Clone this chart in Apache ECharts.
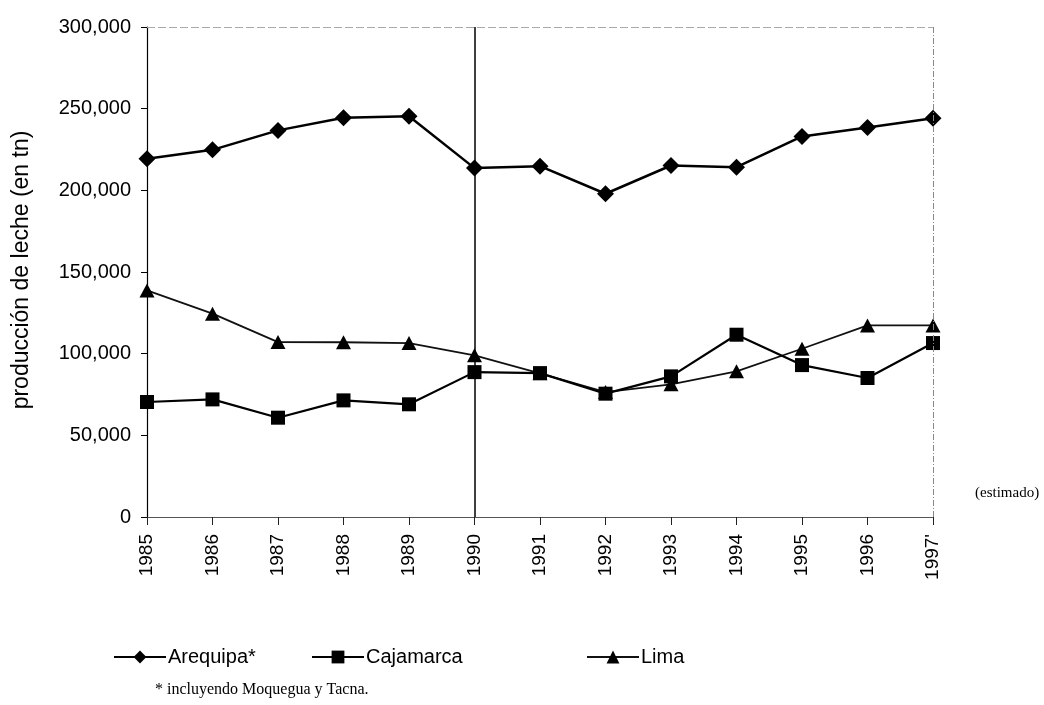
<!DOCTYPE html>
<html>
<head>
<meta charset="utf-8">
<script src="https://cdn.jsdelivr.net/npm/echarts@6/dist/echarts.min.js"></script>
<style>
  html, body { margin: 0; padding: 0; background: #fff; }
  #chart { width: 1044px; height: 705px; }
</style>
</head>
<body>
<div id="chart"></div>
<script>
const years = ['1985', '1986', '1987', '1988', '1989', '1990', '1991', '1992', '1993', '1994', '1995', '1996', "1997'"]
const arequipa = [219300, 224800, 236700, 244400, 245400, 213600, 214800, 197900, 215200, 214200, 233000, 238500, 244200]
const cajamarca = [70400, 72000, 60800, 71400, 69000, 88700, 88100, 75500, 86100, 111600, 93000, 85100, 106500]
const lima = [138700, 124500, 107100, 107000, 106500, 99000, 88000, 76500, 81200, 89200, 103000, 117300, 117300]

const chart = echarts.init(document.getElementById('chart'))

const font = 'Liberation Sans, Arial, sans-serif'
const serif = 'Liberation Serif, Times New Roman, serif'

function legendAt(name, left) {
  return {
    data: [name],
    left: left,
    top: 647,
    itemWidth: 52,
    itemHeight: 16,
    padding: 0,
    textStyle: { fontFamily: font, fontSize: 20, color: '#000', padding: [0, 0, 0, -3] }
  }
}

chart.setOption({
  animation: false,
  grid: {
    left: 147,
    right: 111,
    top: 27,
    bottom: 188
  },
  legend: [
    legendAt('Arequipa*', 113),
    legendAt('Cajamarca', 311),
    legendAt('Lima', 586)
  ],
  xAxis: {
    type: 'category',
    data: years,
    boundaryGap: false,
    axisLine: { lineStyle: { color: '#555', width: 1 } },
    axisTick: { show: true, length: 8, lineStyle: { color: '#222' } },
    axisLabel: {
      rotate: 90,
      fontFamily: font,
      fontSize: 19,
      color: '#000',
      margin: 17
    },
    splitLine: { show: false }
  },
  yAxis: {
    type: 'value',
    min: 0,
    max: 300000,
    interval: 50000,
    axisLine: { show: true, lineStyle: { color: '#000', width: 1.2 } },
    axisTick: { show: true, length: 6, lineStyle: { color: '#000' } },
    axisLabel: {
      fontFamily: font,
      fontSize: 20,
      color: '#000',
      margin: 16,
      formatter: v => v.toLocaleString('en-US')
    },
    splitLine: { show: false }
  },
  series: [
    {
      name: 'Arequipa*',
      type: 'line',
      data: arequipa,
      symbol: 'diamond',
      symbolSize: [17, 17],
      itemStyle: { color: '#000' },
      lineStyle: { color: '#000', width: 2.5 },
      z: 3,
      markLine: {
        silent: true,
        symbol: 'none',
        label: { show: false },
        data: [
          { xAxis: '1990', lineStyle: { color: '#000', width: 1.5, type: 'solid' } },
          { xAxis: "1997'", lineStyle: { color: '#888', width: 1, type: [6, 2, 1, 2] } },
          { yAxis: 300000, lineStyle: { color: '#aaa', width: 1, type: [8, 3] } }
        ]
      }
    },
    {
      name: 'Cajamarca',
      type: 'line',
      data: cajamarca,
      symbol: 'rect',
      symbolSize: 14,
      itemStyle: { color: '#000' },
      lineStyle: { color: '#000', width: 2.2 },
      z: 4
    },
    {
      name: 'Lima',
      type: 'line',
      data: lima,
      symbol: 'triangle',
      symbolSize: [15, 14],
      itemStyle: { color: '#000' },
      lineStyle: { color: '#111', width: 1.8 },
      z: 2
    }
  ],
  graphic: [
    {
      type: 'text',
      x: 22,
      y: 270,
      rotation: Math.PI / 2,
      style: {
        text: 'producción de leche (en tn)',
        font: '23px ' + font,
        fill: '#000',
        textAlign: 'center',
        textVerticalAlign: 'middle'
      }
    },
    {
      type: 'text',
      x: 975,
      y: 493,
      style: {
        text: '(estimado)',
        font: '15px ' + serif,
        fill: '#000',
        textVerticalAlign: 'middle'
      }
    },
    {
      type: 'text',
      x: 155,
      y: 690,
      style: {
        text: '* incluyendo Moquegua y Tacna.',
        font: '16px ' + serif,
        fill: '#000',
        textVerticalAlign: 'middle'
      }
    }
  ]
})
</script>
</body>
</html>
